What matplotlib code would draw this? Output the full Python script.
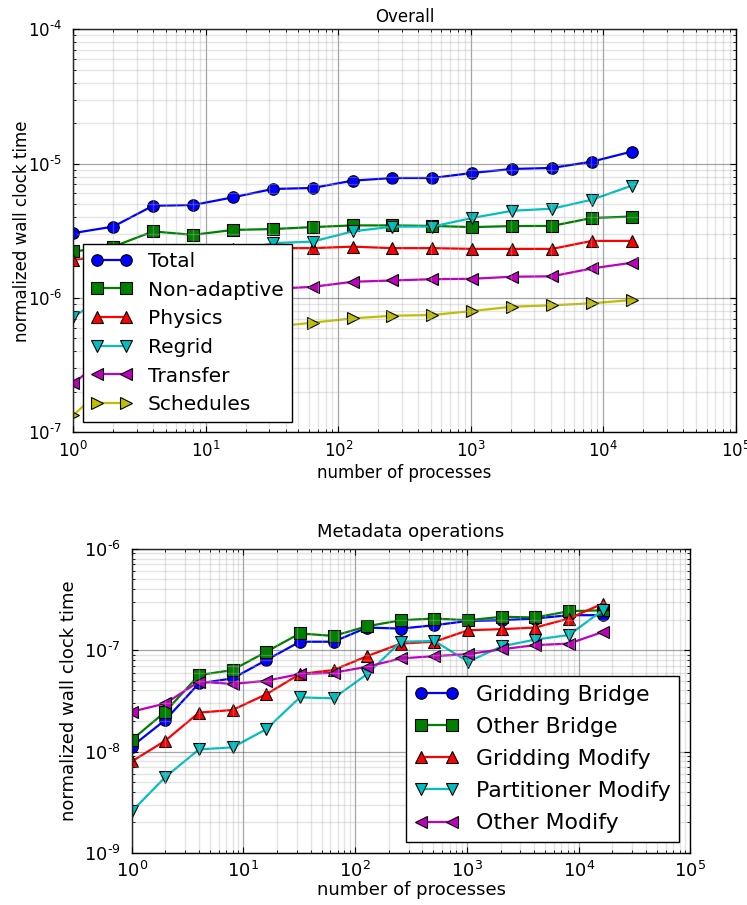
import matplotlib
matplotlib.use('Agg')
import matplotlib.pyplot as plt
from matplotlib.ticker import FuncFormatter
import numpy as np

# number of processes (x values shared by both panels)
procs = [1, 2, 4, 8, 16, 32, 64, 128, 256, 512, 1024, 2048, 4096, 8192, 16384]

# Overall
total = [3.04e-6, 3.40e-6, 4.86e-6, 4.92e-6, 5.61e-6, 6.48e-6, 6.59e-6, 7.47e-6,
         7.82e-6, 7.82e-6, 8.53e-6, 9.13e-6, 9.29e-6, 1.035e-5, 1.23e-5]
non_adaptive = [2.22e-6, 2.41e-6, 3.13e-6, 2.95e-6, 3.21e-6, 3.26e-6, 3.37e-6, 3.47e-6,
                3.47e-6, 3.44e-6, 3.37e-6, 3.43e-6, 3.44e-6, 3.94e-6, 4.04e-6]
physics = [1.92e-6, 2.10e-6, 2.25e-6, 2.25e-6, 2.30e-6, 2.35e-6, 2.35e-6, 2.41e-6,
           2.35e-6, 2.35e-6, 2.32e-6, 2.32e-6, 2.32e-6, 2.66e-6, 2.66e-6]
regrid = [7.26e-7, 1.10e-6, 1.60e-6, 1.90e-6, 2.20e-6, 2.56e-6, 2.63e-6, 3.13e-6,
          3.40e-6, 3.40e-6, 3.94e-6, 4.46e-6, 4.62e-6, 5.39e-6, 6.86e-6]
transfer = [2.31e-7, 4.0e-7, 7.0e-7, 9.0e-7, 1.05e-6, 1.17e-6, 1.21e-6, 1.32e-6,
            1.35e-6, 1.38e-6, 1.39e-6, 1.44e-6, 1.45e-6, 1.66e-6, 1.83e-6]
schedules = [1.34e-7, 2.5e-7, 4.0e-7, 4.8e-7, 5.5e-7, 6.1e-7, 6.55e-7, 7.05e-7,
             7.38e-7, 7.47e-7, 8.0e-7, 8.61e-7, 8.82e-7, 9.13e-7, 9.66e-7]

# Metadata operations
gridding_bridge = [1.12e-8, 2.05e-8, 4.7e-8, 5.26e-8, 7.97e-8, 1.21e-7, 1.21e-7, 1.67e-7,
                   1.63e-7, 1.76e-7, 1.94e-7, 1.97e-7, 2.05e-7, 2.21e-7, 2.21e-7]
other_bridge = [1.30e-8, 2.47e-8, 5.67e-8, 6.36e-8, 9.63e-8, 1.46e-7, 1.38e-7, 1.72e-7,
                1.97e-7, 2.05e-7, 1.97e-7, 2.13e-7, 2.10e-7, 2.42e-7, 2.47e-7]
gridding_modify = [7.98e-9, 1.28e-8, 2.42e-8, 2.57e-8, 3.67e-8, 5.81e-8, 6.36e-8, 8.73e-8,
                   1.16e-7, 1.21e-7, 1.57e-7, 1.61e-7, 1.67e-7, 2.05e-7, 2.87e-7]
partitioner_modify = [2.57e-9, 5.6e-9, 1.05e-8, 1.10e-8, 1.66e-8, 3.42e-8, 3.35e-8, 5.81e-8,
                      1.21e-7, 1.23e-7, 7.68e-8, 1.09e-7, 1.27e-7, 1.41e-7, 2.47e-7]
other_modify = [2.47e-8, 2.98e-8, 4.89e-8, 4.64e-8, 4.99e-8, 5.81e-8, 5.98e-8, 6.86e-8,
                8.28e-8, 8.73e-8, 9.13e-8, 1.02e-7, 1.12e-7, 1.16e-7, 1.51e-7]

top_series = [('Total', total, 'b', 'o'),
              ('Non-adaptive', non_adaptive, 'g', 's'),
              ('Physics', physics, 'r', '^'),
              ('Regrid', regrid, 'c', 'v'),
              ('Transfer', transfer, 'm', '<'),
              ('Schedules', schedules, 'y', '>')]
bottom_series = [('Gridding Bridge', gridding_bridge, 'b', 'o'),
                 ('Other Bridge', other_bridge, 'g', 's'),
                 ('Gridding Modify', gridding_modify, 'r', '^'),
                 ('Partitioner Modify', partitioner_modify, 'c', 'v'),
                 ('Other Modify', other_modify, 'm', '<')]

plt.rcParams['font.family'] = ['DejaVu Sans']
plt.rcParams['xtick.direction'] = 'in'
plt.rcParams['ytick.direction'] = 'in'
plt.rcParams['xtick.top'] = True
plt.rcParams['ytick.right'] = True
plt.rcParams['xtick.major.size'] = 4
plt.rcParams['ytick.major.size'] = 4
plt.rcParams['xtick.minor.size'] = 2
plt.rcParams['ytick.minor.size'] = 2
plt.rcParams['axes.axisbelow'] = False


# 10^-n labels with a short hyphen, like the old matplotlib output
def pow10(v, pos):
    e = str(int(round(np.log10(v)))).replace('-', '\u2010')
    return r'$\mathdefault{10^{%s}}$' % e


def draw(ax, series, ylim, fs, legfs, legloc, labelspacing):
    for name, vals, col, mk in series:
        ax.plot(procs, vals, color=col, marker=mk, lw=1.6, ms=8.3,
                mec='k', mew=0.8, label=name)
    ax.set_xscale('log')
    ax.set_yscale('log')
    ax.set_xlim(1, 1e5)
    ax.set_ylim(*ylim)
    ax.xaxis.set_major_formatter(FuncFormatter(pow10))
    ax.yaxis.set_major_formatter(FuncFormatter(pow10))
    ax.grid(True, which='major', color='0.3', alpha=0.5, lw=0.9)
    ax.grid(True, which='minor', color='0.7', alpha=0.35, lw=1.0)
    ax.tick_params(which='both', labelsize=fs)
    ax.tick_params(axis='x', which='major', pad=6)
    ax.tick_params(axis='y', which='major', pad=8)
    for s in ax.spines.values():
        s.set_linewidth(1.0)
    leg = ax.legend(loc=legloc, numpoints=2, fontsize=legfs, fancybox=False,
                    framealpha=1, edgecolor='k', labelspacing=labelspacing,
                    handletextpad=0.8, borderaxespad=0.5)
    leg.get_frame().set_linewidth(1.0)


fig = plt.figure(figsize=(7.47, 9.05), dpi=100)

# top panel
ax1 = fig.add_axes([0.0981, 0.5223, 0.8871, 0.4453])
draw(ax1, top_series, (1e-7, 1e-4), 12, 14.5, 'lower left', 0.48)
ax1.set_title('Overall', fontsize=12, pad=5)
ax1.set_xlabel('number of processes', fontsize=12)
ax1.set_ylabel('normalized wall clock time', fontsize=12)
ax1.xaxis.set_label_coords(0.5, -0.078)
ax1.yaxis.set_label_coords(-0.0645, 0.5)

# bottom panel
ax2 = fig.add_axes([0.1763, 0.0575, 0.748, 0.3362])
draw(ax2, bottom_series, (1e-9, 1e-6), 13, 15.8, 'lower right', 0.55)
ax2.set_title('Metadata operations', fontsize=13, pad=8.7)
ax2.set_xlabel('number of processes', fontsize=13)
ax2.set_ylabel('normalized wall clock time', fontsize=13)
ax2.xaxis.set_label_coords(0.5, -0.092)
ax2.yaxis.set_label_coords(-0.096, 0.5)

fig.savefig('out.png', dpi=100)
